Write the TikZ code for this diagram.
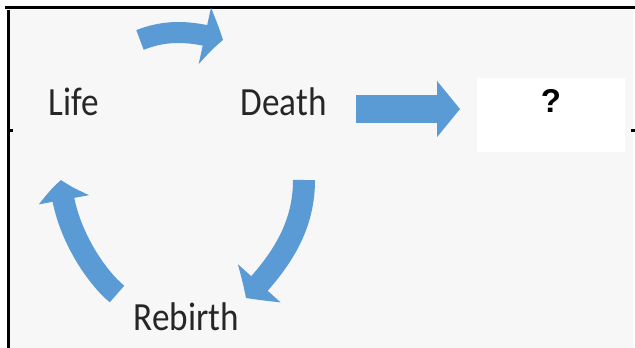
\documentclass[tikz,border=0pt]{standalone}
\usepackage{fontspec}
\newfontfamily\cyclefont[FakeStretch=0.88]{Carlito}
\newfontfamily\boxfont{Liberation Sans}
\usetikzlibrary{arrows.meta,bending}
\definecolor{slidegrey}{HTML}{F7F7F7}
\definecolor{cycleblue}{HTML}{5B9BD5}
\tikzset{
  word/.style={inner sep=0pt,anchor=base,text=black!85,
    font=\cyclefont\fontsize{40}{48}\selectfont},
  qbox/.style={fill=white,inner xsep=0pt,inner ysep=10pt,minimum width=148pt,
    text height=25pt,text depth=29pt,font=\boxfont\bfseries\fontsize{33}{40}\selectfont},
  frameline/.style={line width=3pt},
  bent/.style={draw=cycleblue,line width=#1},
}
\begin{document}
\begin{tikzpicture}[x=1pt,y=1pt]
\useasboundingbox (0,0) rectangle (635,348);
\fill[slidegrey] (10,0) rectangle (633,338);
%frame
\draw[frameline] (5,340) -- (635,340);
\draw[frameline] (8,338) -- (8,0);
\draw[frameline] (8,217) -- (13,217);
\draw[frameline] (631,217) -- (635,217);

\node[word] (life) at (73.5,232) {Life};
\node[word] (death) at (283.5,232) {Death};
\node[word] (rebirth) at (186.5,17) {Rebirth};
\node[qbox] (unknown) at (551,233) {?};

\coordinate (d-out) at (356,239);
\coordinate (q-in) at (460,239);
\draw[bent=28pt,-{Triangle[width=55pt,length=23pt]}] (d-out) -- (q-in);

%cycle arrows
\coordinate (l-out) at (140,308);
\coordinate (d-in) at (223,308);
\coordinate (d-down) at (304,168);
\coordinate (r-in) at (246,50);
\coordinate (r-out) at (117,54);
\coordinate (l-in) at (61,168);
\draw[bent=21pt,-{Triangle[width=56pt,length=19pt,bend]}]
  (l-out) .. controls (165,318) and (190,318) .. (d-in);
\draw[bent=22pt,-{Triangle[width=56pt,length=20pt,bend]}]
  (d-down) .. controls (304,120) and (280,85) .. (r-in);
\draw[bent=22pt,-{Triangle[width=50pt,length=20pt,bend]}]
  (r-out) .. controls (95,72) and (63,120) .. (l-in);
\end{tikzpicture}
\end{document}
